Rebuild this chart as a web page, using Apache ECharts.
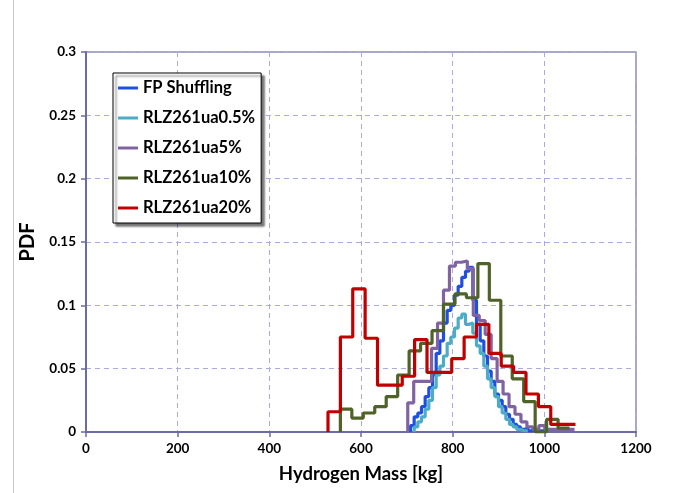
<!DOCTYPE html>
<html>
<head>
<meta charset="utf-8">
<script src="https://cdn.jsdelivr.net/npm/echarts@6/dist/echarts.min.js"></script>
<style>
html,body{margin:0;padding:0;background:#fff;}
#c{width:673px;height:493px;}
</style>
</head>
<body>
<div id="c"></div>
<script>
// ---- data ----
var seriesNames = ['FP Shuffling', 'RLZ261ua0.5%', 'RLZ261ua5%', 'RLZ261ua10%', 'RLZ261ua20%'];
var xTicks = [0, 200, 400, 600, 800, 1000, 1200];
var yTicks = [0, 0.05, 0.1, 0.15, 0.2, 0.25, 0.3];

var blueEdges = [708,716,724,732,740,748,756,764,772,780,788,796,804,812,820,828,836,844,852,860,868,876,884,892,900,908,916,924,932,940,948,956,964,972,980,988,996,1004];
var bluePdf = [0.005,0.012,0.015,0.02,0.028,0.035,0.045,0.062,0.072,0.086,0.096,0.1,0.108,0.115,0.122,0.127,0.13,0.104,0.085,0.072,0.06,0.048,0.04,0.03,0.025,0.02,0.014,0.01,0.006,0.004,0.002,0.003,0.001,0.002,0.001,0.001,0.001];

var cyanEdges = [716,724,732,740,748,756,764,772,780,788,796,804,812,820,828,836,844,852,860,868,876,884,892,900,908,916,924,932,940,948,956,964];
var cyanPdf = [0.004,0.008,0.012,0.018,0.025,0.035,0.045,0.052,0.06,0.07,0.075,0.082,0.09,0.093,0.085,0.086,0.078,0.068,0.062,0.052,0.042,0.035,0.028,0.02,0.015,0.01,0.006,0.004,0.002,0.001,0.001];

var purpleEdges = [702,715,728,741,754,767,780,793,806,819,832,845,858,871,884,897,910,923,936,949,962,975,988,1001,1014,1027,1040,1053,1066];
var purplePdf = [0.023,0.04,0.04,0.04,0.066,0.086,0.112,0.131,0.134,0.135,0.129,0.092,0.088,0.077,0.058,0.04,0.03,0.02,0.014,0.008,0.004,0.002,0.005,0.002,0.002,0.002,0.002,0.002];

var greenEdges = [555,580,605,630,655,680,705,730,755,780,805,830,855,880,905,930,955,980,1005,1030,1055];
var greenPdf = [0.018,0.011,0.015,0.02,0.028,0.045,0.064,0.07,0.08,0.101,0.109,0.106,0.133,0.104,0.06,0.042,0.024,0,0.01,0.003];

var redEdges = [528,555,582,609,636,663,690,717,744,771,798,825,852,879,906,933,960,987,1014,1041,1068];
var redPdf = [0.016,0.075,0.113,0.074,0.037,0.037,0.044,0.073,0.047,0.047,0.058,0.075,0.085,0.062,0.052,0.047,0.03,0.02,0.006,0.006];

var colors = ['#1f4fe0', '#4bacc6', '#8064a2', '#4f6228', '#c00000'];

function stepData(edges, vals) {
  var d = [[edges[0], 0]];
  for (var i = 0; i < vals.length; i++) d.push([edges[i], vals[i]]);
  d.push([edges[edges.length - 1], vals[vals.length - 1]]);
  return d;
}
var allEdges = [blueEdges, cyanEdges, purpleEdges, greenEdges, redEdges];
var allVals = [bluePdf, cyanPdf, purplePdf, greenPdf, redPdf];

var FONT = 'Lato';
var chart = echarts.init(document.getElementById('c'), null, {renderer: 'canvas'});
var series = seriesNames.map(function (n, i) {
  return {
    name: n, type: 'line', step: 'end', showSymbol: false, symbol: 'none',
    data: stepData(allEdges[i], allVals[i]),
    lineStyle: {width: 3.2, color: colors[i]},
    itemStyle: {color: colors[i]},
    animation: false
  };
});

chart.setOption({
  backgroundColor: '#fff',
  animation: false,
  color: colors,
  textStyle: {fontFamily: FONT},
  grid: {left: 86, right: 37, top: 52, bottom: 61, show: true, borderColor: '#8c8cae', borderWidth: 1.5, containLabel: false},
  graphic: [{type: 'line', shape: {x1: 13.5, y1: 0, x2: 13.5, y2: 493}, style: {stroke: '#c8c8c8', lineWidth: 1}}],
  legend: {
    orient: 'vertical', left: 113, top: 73,
    data: seriesNames,
    icon: 'rect', itemWidth: 20, itemHeight: 3, itemGap: 12, itemTextGap: 3,
    backgroundColor: '#fff', borderColor: '#000', borderWidth: 1,
    padding: [6, 6, 6, 5],
    shadowColor: 'rgba(0,0,0,0.55)', shadowOffsetX: 3, shadowOffsetY: 3, shadowBlur: 2,
    textStyle: {fontFamily: FONT, fontWeight: 'bold', fontSize: 16.5, color: '#000', lineHeight: 18}
  },
  xAxis: {
    type: 'value', min: xTicks[0], max: xTicks[xTicks.length - 1], interval: 200,
    name: 'Hydrogen Mass [kg]', nameLocation: 'middle', nameGap: 33,
    nameTextStyle: {fontFamily: FONT, fontWeight: 'bold', fontSize: 18.5, color: '#000'},
    axisLine: {show: true, lineStyle: {color: '#6b6ba6', width: 2}},
    axisTick: {show: true, length: 5, lineStyle: {color: '#6b6ba6', width: 1.5}},
    axisLabel: {fontFamily: FONT, fontWeight: 'bold', fontSize: 13.5, color: '#000', margin: 10,
      formatter: function (v) { return String(v); }},
    splitLine: {show: true, lineStyle: {type: [5, 4], color: '#a9a9e6', width: 1}}
  },
  yAxis: {
    type: 'value', min: yTicks[0], max: yTicks[yTicks.length - 1], interval: 0.05,
    name: 'PDF', nameLocation: 'middle', nameGap: 48, nameRotate: 90,
    nameTextStyle: {fontFamily: FONT, fontWeight: 'bold', fontSize: 20, color: '#000'},
    axisLine: {show: true, lineStyle: {color: '#6b6ba6', width: 2}},
    axisTick: {show: true, length: 5, lineStyle: {color: '#6b6ba6', width: 1.5}},
    axisLabel: {fontFamily: FONT, fontWeight: 'bold', fontSize: 13.5, color: '#000', margin: 10,
      formatter: function (v) { return String(+v.toFixed(2)); }},
    splitLine: {show: true, lineStyle: {type: [5, 4], color: '#a9a9e6', width: 1}}
  },
  series: series
});
</script>
</body>
</html>
